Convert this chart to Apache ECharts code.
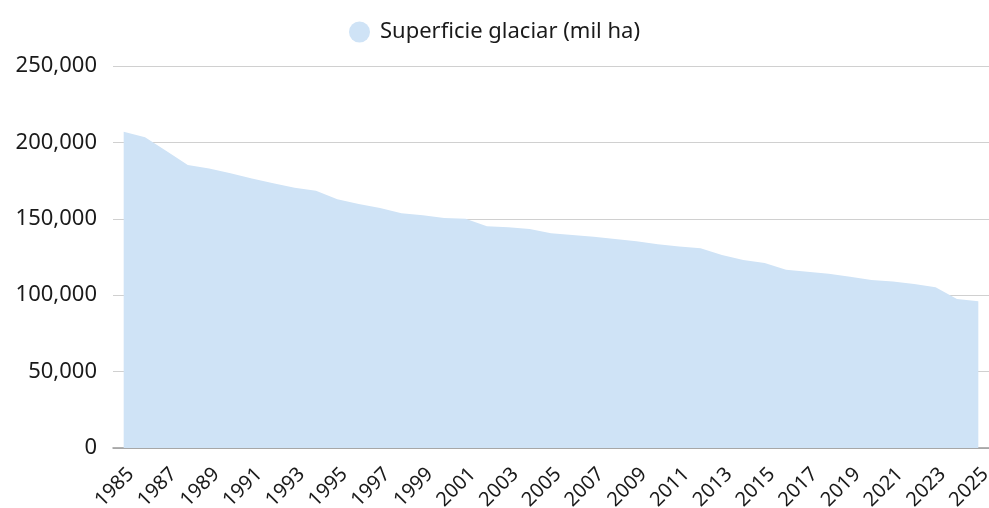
<!DOCTYPE html>
<html>
<head>
<meta charset="utf-8">
<title>Superficie glaciar</title>
<script src="https://cdn.jsdelivr.net/npm/echarts@6/dist/echarts.min.js"></script>
<style>
  html, body { margin: 0; padding: 0; background: #fff; }
  #chart { width: 989px; height: 508px; }
</style>
</head>
<body>
<div id="chart"></div>
<script>
const years = ['1985', '1986', '1987', '1988', '1989', '1990', '1991', '1992', '1993', '1994',
  '1995', '1996', '1997', '1998', '1999', '2000', '2001', '2002', '2003', '2004',
  '2005', '2006', '2007', '2008', '2009', '2010', '2011', '2012', '2013', '2014',
  '2015', '2016', '2017', '2018', '2019', '2020', '2021', '2022', '2023', '2024', '2025']

const superficie = [207000, 203400, 194300, 185200, 183000, 179800, 176300, 173200, 170400, 168400,
  162800, 159700, 157100, 153600, 152300, 150500, 150100, 145100, 144400, 143300,
  140500, 139400, 138300, 136800, 135300, 133300, 131800, 130800, 126300, 123000,
  121100, 116700, 115400, 114100, 112100, 110000, 108900, 107300, 105200, 97500, 96000]

const seriesName = 'Superficie glaciar (mil ha)'
const fontFamily = '"Noto Sans", sans-serif'

const chart = echarts.init(document.getElementById('chart'))

chart.setOption({
  animation: false,
  legend: {
    top: 16,
    left: 'center',
    icon: 'circle',
    itemWidth: 21,
    itemHeight: 21,
    itemGap: 10,
    textStyle: {
      fontFamily,
      fontSize: 22,
      color: '#1a1a1a',
      padding: [0, 0, 0, 5]
    },
    data: [seriesName]
  },
  grid: {
    left: 113,
    right: 0,
    top: 66,
    bottom: 60,
    containLabel: false,
    outerBoundsMode: 'none'
  },
  xAxis: {
    type: 'category',
    data: years,
    boundaryGap: true,
    axisLine: { lineStyle: { color: '#999', width: 1.5 } },
    axisTick: { show: false },
    axisLabel: {
      interval: 1,
      rotate: 45,
      margin: 16,
      verticalAlign: 'top',
      fontFamily,
      fontSize: 20,
      color: '#1a1a1a'
    }
  },
  yAxis: {
    type: 'value',
    min: 0,
    max: 250000,
    interval: 50000,
    axisLabel: {
      margin: 16,
      fontFamily,
      fontSize: 22,
      color: '#1a1a1a',
      formatter: v => v.toLocaleString('en-US')
    },
    splitLine: { lineStyle: { color: '#d0d0d0', width: 1 } }
  },
  series: [{
    name: seriesName,
    type: 'line',
    data: superficie,
    symbol: 'none',
    lineStyle: { width: 0 },
    itemStyle: { color: '#cfe3f6' },
    areaStyle: { color: '#cfe3f6', opacity: 1 }
  }]
})
</script>
</body>
</html>
